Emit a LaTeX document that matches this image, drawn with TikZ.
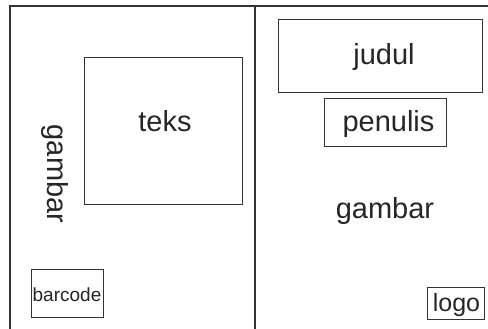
\documentclass[tikz,border=0pt]{standalone}
\usepackage{fontspec}
\setmainfont{Liberation Sans}
\begin{document}
\begin{tikzpicture}[x=1pt,y=-1pt,
  frame/.style={draw=black!80, line width=1.2pt},
  box/.style={frame, rectangle, inner sep=0pt, anchor=north west},
  big/.style={font=\fontsize{29}{34}\selectfont, text=black!85, inner sep=0pt},
  small/.style={font=\fontsize{19}{23}\selectfont, text=black!85, inner sep=0pt},
  mid/.style={font=\fontsize{25}{30}\selectfont, text=black!85, inner sep=0pt}]
  % canvas
  \useasboundingbox (0,0) rectangle (488,329);
  \fill[white] (0,0) rectangle (488,329);
  % outer frame and spine
  \coordinate (tl) at (10,6);
  \coordinate (tr) at (488,6);
  \coordinate (bl) at (10,329);
  \coordinate (st) at (255,6);
  \coordinate (sb) at (255,329);
  \draw[frame] (bl) -- (tl) -- (tr);
  \draw[frame] (st) -- (sb);
  % back cover
  \node[box, minimum width=158pt, minimum height=147pt] (teksbox) at (84,57) {};
  \node[big, anchor=base] (teks) at (165,131.5) {teks};
  \node[big, rotate=-90] (gambarL) at (55,174) {gambar};
  \node[box, minimum width=72pt, minimum height=48pt] (barcodebox) at (31,269) {};
  \node[small, anchor=base] (barcode) at (67,301.5) {barcode};
  % front cover
  \node[box, minimum width=204pt, minimum height=73pt] (judulbox) at (278,19) {};
  \node[big, anchor=base] (judul) at (384,65) {judul};
  \node[box, minimum width=122pt, minimum height=48pt] (penulisbox) at (324,98) {};
  \node[big, anchor=base] (penulis) at (388.5,131.5) {penulis};
  \node[big, anchor=base] (gambarR) at (385,218) {gambar};
  \node[box, minimum width=57pt, minimum height=32pt] (logobox) at (427,287) {};
  \node[mid, anchor=base] (logo) at (456.5,311.5) {logo};
\end{tikzpicture}
\end{document}
